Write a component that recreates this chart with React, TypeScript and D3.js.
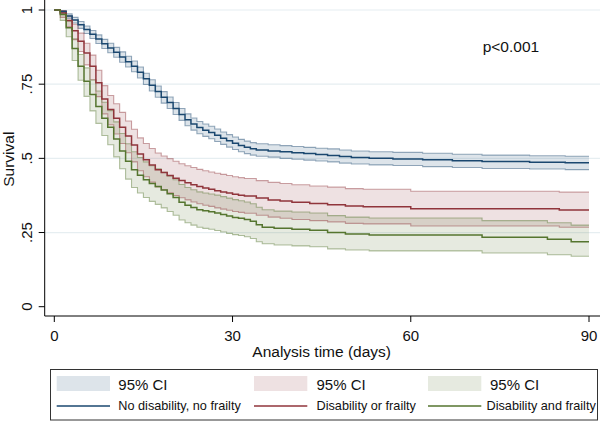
import React from "react";
import * as d3 from "d3";

type Row = [number, number, number, number]; // day, survival, lower CI, upper CI

const xTicks = [0, 30, 60, 90];
const yTicks = [0, 0.25, 0.5, 0.75, 1];
const yTickLabels = ["0", ".25", ".5", ".75", "1"];
const gridValues = [0.25, 0.5, 0.75, 1];
const seriesNames = ["No disability, no frailty", "Disability or frailty", "Disability and frailty"];
const ciLabel = "95% CI";
const seriesColors = ["#1a476f", "#90353b", "#55752f"];
const pValueText = "p<0.001";
const xTitle = "Analysis time (days)";
const yTitle = "Survival";
const maxDay = 90;

const noDisability: Row[] = [
  [0, 1, 1, 1], [1, .995, .991, .998], [2, .980, .972, .987], [3, .966, .956, .975],
  [4, .950, .938, .961], [5, .934, .921, .946], [6, .918, .904, .931], [7, .902, .887, .916],
  [8, .886, .870, .901], [9, .872, .856, .888], [10, .858, .841, .874], [11, .842, .824, .859],
  [12, .826, .808, .844], [13, .810, .792, .828], [14, .790, .771, .808], [15, .768, .749, .787],
  [16, .746, .727, .765], [17, .725, .706, .744], [18, .706, .686, .725], [19, .688, .668, .707],
  [20, .668, .648, .688], [21, .648, .628, .668], [22, .630, .610, .650], [23, .616, .595, .636],
  [24, .604, .583, .624], [25, .595, .574, .616], [26, .587, .566, .608], [27, .578, .557, .599],
  [28, .568, .547, .589], [29, .559, .538, .580], [30, .551, .530, .572], [31, .543, .522, .564],
  [32, .537, .516, .558], [33, .532, .511, .553], [34, .528, .507, .549], [36, .525, .504, .546],
  [38, .522, .500, .543], [40, .519, .497, .540], [42, .516, .494, .537], [44, .513, .491, .534],
  [46, .510, .488, .532], [48, .506, .484, .528], [50, .503, .481, .525], [53, .500, .478, .522],
  [57, .498, .476, .520], [62, .495, .472, .517], [67, .492, .469, .514], [72, .489, .466, .511],
  [80, .487, .464, .509], [86, .485, .462, .507],
];

const disabilityOrFrailty: Row[] = [
  [0, 1, 1, 1], [1, .990, .975, .998], [2, .965, .943, .980], [3, .930, .900, .952],
  [4, .895, .860, .922], [5, .855, .815, .888], [6, .810, .765, .848], [7, .755, .708, .797],
  [8, .700, .650, .745], [9, .665, .613, .712], [10, .635, .582, .684], [11, .605, .550, .655],
  [12, .575, .519, .626], [13, .545, .488, .598], [14, .515, .458, .569], [15, .495, .438, .550],
  [16, .478, .420, .533], [17, .462, .404, .518], [18, .452, .394, .508], [19, .442, .384, .499],
  [20, .433, .375, .490], [21, .425, .367, .482], [22, .418, .360, .475], [23, .411, .353, .469],
  [24, .405, .347, .463], [25, .400, .342, .458], [26, .396, .338, .454], [27, .391, .333, .450],
  [28, .387, .329, .446], [29, .383, .325, .442], [30, .379, .321, .438], [31, .376, .318, .435],
  [32, .373, .315, .432], [34, .366, .308, .425], [36, .360, .302, .419], [38, .356, .298, .415],
  [40, .352, .294, .411], [43, .348, .290, .407], [46, .344, .286, .403], [49, .339, .281, .398],
  [52, .337, .279, .396], [60, .330, .272, .389], [85, .326, .268, .386],
];

const disabilityAndFrailty: Row[] = [
  [0, 1, 1, 1], [1, .985, .965, .995], [2, .940, .910, .962], [3, .870, .830, .903],
  [4, .810, .763, .850], [5, .760, .709, .805], [6, .715, .660, .764], [7, .675, .618, .727],
  [8, .635, .577, .689], [9, .605, .546, .661], [10, .565, .505, .623], [11, .525, .465, .584],
  [12, .490, .430, .549], [13, .462, .402, .522], [14, .443, .383, .503], [15, .428, .368, .488],
  [16, .415, .355, .475], [17, .405, .345, .465], [18, .393, .333, .453], [19, .381, .321, .441],
  [20, .368, .308, .428], [21, .352, .292, .412], [22, .342, .283, .402], [23, .334, .275, .394],
  [24, .327, .268, .387], [25, .323, .264, .383], [26, .320, .261, .380], [27, .316, .257, .376],
  [28, .311, .252, .371], [29, .306, .247, .366], [30, .301, .243, .361], [31, .298, .240, .357],
  [32, .294, .236, .353], [33, .288, .230, .347], [34, .276, .219, .335], [35, .268, .212, .327],
  [37, .264, .208, .322], [40, .261, .205, .319], [43, .258, .202, .316], [46, .250, .195, .307],
  [49, .245, .191, .302], [53, .242, .188, .299], [72, .234, .181, .290], [83, .227, .175, .283],
  [87, .219, .170, .275],
];

const allSeries = [noDisability, disabilityOrFrailty, disabilityAndFrailty];

const FONT = "'Liberation Sans', Arial, Helvetica, sans-serif";

export default function App() {
  const W = 600;
  const H = 422;
  const x = d3.scaleLinear().domain([0, 90]).range([54.3, 589]);
  const y = d3.scaleLinear().domain([0, 1]).range([306.7, 10]);
  const axisX = 44.7;
  const axisY = 316;
  const rightEdge = 600;

  const withEnd = (rows: Row[]): Row[] => {
    const last = rows[rows.length - 1];
    return [...rows, [maxDay, last[1], last[2], last[3]]];
  };

  const area = d3
    .area<Row>()
    .x((d) => x(d[0]))
    .y0((d) => y(d[2]))
    .y1((d) => y(d[3]))
    .curve(d3.curveStepAfter);
  const lineS = d3.line<Row>().x((d) => x(d[0])).y((d) => y(d[1])).curve(d3.curveStepAfter);
  const lineLo = d3.line<Row>().x((d) => x(d[0])).y((d) => y(d[2])).curve(d3.curveStepAfter);
  const lineHi = d3.line<Row>().x((d) => x(d[0])).y((d) => y(d[3])).curve(d3.curveStepAfter);

  const legendCols = [
    { sw: 56.7, t1: 118.3, t2: 118.3 },
    { sw: 254, t1: 316.5, t2: 316.5 },
    { sw: 428, t1: 490, t2: 486.5 },
  ];

  return (
    <svg
      width={W}
      height={H}
      viewBox={`0 0 ${W} ${H}`}
      style={{ position: "absolute", left: 0, top: 0, background: "#fff" }}
      fontFamily={FONT}
    >
      <rect x={0} y={0} width={W} height={H} fill="#fff" />
      {/* gridlines */}
      {gridValues.map((g) => (
        <line key={g} x1={axisX} x2={rightEdge} y1={y(g)} y2={y(g)} stroke="#e6eef1" strokeWidth={1.2} />
      ))}
      {/* CI areas */}
      {allSeries.map((s, i) => (
        <path key={"a" + i} d={area(withEnd(s)) || ""} fill={seriesColors[i]} fillOpacity={0.15} stroke="none" />
      ))}
      {allSeries.map((s, i) => (
        <g key={"b" + i} fill="none" stroke={seriesColors[i]} strokeOpacity={0.45} strokeWidth={1.1}>
          <path d={lineLo(withEnd(s)) || ""} />
          <path d={lineHi(withEnd(s)) || ""} />
        </g>
      ))}
      {allSeries.map((s, i) => (
        <path key={"l" + i} d={lineS(withEnd(s)) || ""} fill="none" stroke={seriesColors[i]} strokeWidth={1.5} />
      ))}
      {/* axes */}
      <line x1={axisX} x2={axisX} y1={0} y2={axisY} stroke="#000" strokeWidth={1} />
      <line x1={axisX} x2={rightEdge} y1={axisY} y2={axisY} stroke="#000" strokeWidth={1} />
      {yTicks.map((t, i) => (
        <g key={"yt" + t}>
          <line x1={axisX - 6} x2={axisX} y1={y(t)} y2={y(t)} stroke="#000" strokeWidth={1} />
          <text
            transform={`translate(32,${y(t)}) rotate(-90)`}
            textAnchor="middle"
            fontSize={15}
            fill="#111"
          >
            {yTickLabels[i]}
          </text>
        </g>
      ))}
      {xTicks.map((t) => (
        <g key={"xt" + t}>
          <line x1={x(t)} x2={x(t)} y1={axisY} y2={axisY + 6} stroke="#000" strokeWidth={1} />
          <text x={x(t)} y={340.7} textAnchor="middle" fontSize={15} fill="#111">
            {t}
          </text>
        </g>
      ))}
      <text x={(x(0) + x(90)) / 2} y={356.5} textAnchor="middle" fontSize={15.5} fill="#111">
        {xTitle}
      </text>
      <text transform={`translate(13.5,159.2) rotate(-90)`} textAnchor="middle" fontSize={15.5} fill="#111">
        {yTitle}
      </text>
      <text x={482.7} y={51.5} fontSize={15.5} fill="#111">
        {pValueText}
      </text>
      {/* legend */}
      <rect x={50.5} y={369.5} width={547} height={50.5} fill="#fff" stroke="#333" strokeWidth={1} />
      {legendCols.map((c, i) => (
        <g key={"lg" + i}>
          <rect x={c.sw} y={376} width={53.3} height={15} fill={seriesColors[i]} fillOpacity={0.15} />
          <text x={c.t1} y={390} fontSize={15} fill="#111">
            {ciLabel}
          </text>
          <line x1={c.sw} x2={c.sw + 53.3} y1={406} y2={406} stroke={seriesColors[i]} strokeWidth={1.5} />
          <text x={c.t2} y={409.5} fontSize={12.7} fill="#111">
            {seriesNames[i]}
          </text>
        </g>
      ))}
    </svg>
  );
}
